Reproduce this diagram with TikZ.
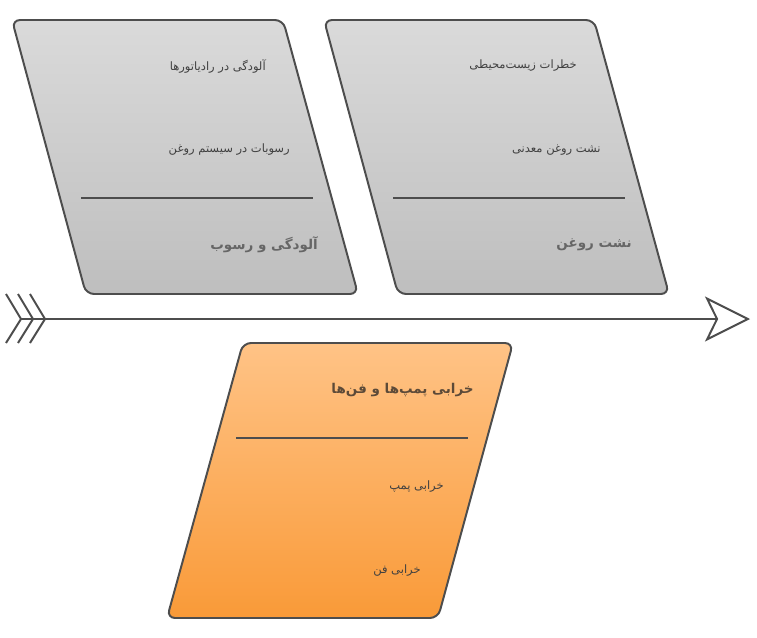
\documentclass[tikz,border=0pt]{standalone}
\usepackage{fontspec}
\usetikzlibrary{arrows.meta}
\newfontfamily\arabicfont[Script=Arabic]{DejaVu Sans}
\TeXXeTstate=1
\definecolor{edge}{HTML}{4D4D4D}
\definecolor{grayTop}{HTML}{DADADA}
\definecolor{grayBot}{HTML}{BEBEBE}
\definecolor{orangeTop}{HTML}{FFC386}
\definecolor{orangeBot}{HTML}{F99A38}
\definecolor{causeText}{HTML}{404040}
\definecolor{titleText}{HTML}{666666}
\definecolor{titleBrown}{HTML}{5C4A38}

\begin{document}
\begin{tikzpicture}[x=0.025cm, y=-0.025cm,
    bone/.style={draw=edge, line width=1.4pt, rounded corners=0.2cm},
    sep/.style={draw=edge, line width=1.4pt},
    cause/.style={anchor=east, inner sep=0pt, text=causeText, font=\arabicfont\fontsize{8.2}{10}\selectfont},
    title/.style={anchor=east, inner sep=0pt, text=titleText, font=\arabicfont\bfseries\fontsize{9.6}{12}\selectfont}]
    \useasboundingbox (0, 0) rectangle (757, 638);
    % ribs
    \path[bone, top color=grayTop, bottom color=grayBot] (12, 20) -- (283, 20) -- (358, 294) -- (86, 294) -- cycle;
    \path[bone, top color=grayTop, bottom color=grayBot] (324, 20) -- (594, 20) -- (669, 294) -- (398, 294) -- cycle;
    \path[bone, top color=orangeTop, bottom color=orangeBot] (243, 343) -- (513, 343) -- (438, 618) -- (167, 618) -- cycle;
    \draw[sep] (81, 198) -- (313, 198);
    \draw[sep] (393, 198) -- (625, 198);
    \draw[sep] (236, 438) -- (468, 438);
    % texts
    \node[cause] (radiator) at (266, 66) {\beginR آلودگی در رادیاتورها\endR};
    \node[cause] (deposit) at (290, 150) {\beginR رسوبات در سیستم روغن\endR};
    \node[title] (fouling) at (318, 245) {\beginR آلودگی و رسوب\endR};
    \node[cause] (environment) at (577, 66) {\beginR خطرات زیست‌محیطی\endR};
    \node[cause] (mineral) at (601, 150) {\beginR نشت روغن معدنی\endR};
    \node[title] (leak) at (632, 245) {\beginR نشت روغن\endR};
    \node[title, text=titleBrown] (failure) at (474, 390) {\beginR خرابی پمپ‌ها و فن‌ها\endR};
    \node[cause] (pump) at (444, 487) {\beginR خرابی پمپ\endR};
    \node[cause] (fan) at (421, 571) {\beginR خرابی فن\endR};
    % spine
    \coordinate (tail) at (21, 319);
    \coordinate (head) at (750, 319);
    \foreach \dx in {0, 12, 24}
        \draw[edge, line width=1.4pt] (6+\dx, 294) -- (21+\dx, 319) -- (6+\dx, 343);
    \draw[edge, line width=1.4pt, -{Stealth[open, fill=white, length=32pt, width=32pt, inset=7.8pt]}] (tail) -- (head);
\end{tikzpicture}
\end{document}
